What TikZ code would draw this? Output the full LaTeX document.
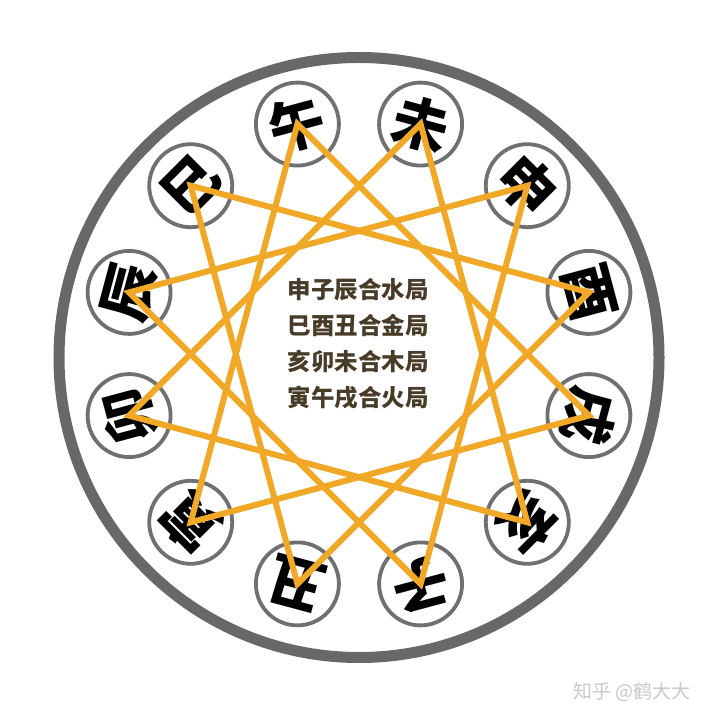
\documentclass[tikz,border=0pt]{standalone}
\usepackage{fontspec}
\newfontfamily\cjk{Noto Sans CJK SC}
\definecolor{ringgray}{RGB}{104,104,104}
\definecolor{smallgray}{RGB}{112,112,112}
\definecolor{star}{RGB}{240,168,38}
\definecolor{txt}{RGB}{72,60,40}
\definecolor{mark}{RGB}{200,200,200}
\begin{document}
\begin{tikzpicture}[x=1pt,y=1pt,
  branch/.style={circle, draw=smallgray, line width=3.8pt, minimum size=83pt, inner sep=0pt, fill=white,
    font=\cjk\bfseries\fontsize{56}{56}\selectfont},
  trine/.style={draw=star, line width=6pt, line join=miter},
  title/.style={font=\cjk\bfseries\fontsize{23.5}{36}\selectfont, text=txt, align=center},
  watermark/.style={font=\cjk\fontsize{19}{19}\selectfont, text=mark}]
\useasboundingbox (0,0) rectangle (720,720);
\fill[white] (0,0) rectangle (720,720);
\coordinate (O) at (359,362.5);
\coordinate (S) at (359,366);
\node[circle, draw=ringgray, line width=11pt, minimum size=600pt, inner sep=0pt] (ring) at (O) {};
\foreach \n/\c/\a in {wu/午/105, wei/未/75, shen/申/45, you/酉/15, xu/戌/-15, hai/亥/-45,
                      zi/子/-75, chou/丑/-105, yin/寅/-135, mao/卯/-165, chen/辰/165, si/巳/135} {
  \node[branch, rotate=\a-90] (\n) at ([shift={(\a:238)}]S) {\c};
}
\draw[trine] (shen.center) -- (zi.center) -- (chen.center) -- cycle;
\draw[trine] (si.center) -- (you.center) -- (chou.center) -- cycle;
\draw[trine] (hai.center) -- (mao.center) -- (wei.center) -- cycle;
\draw[trine] (yin.center) -- (wu.center) -- (xu.center) -- cycle;
\node[title] (legend) at (358,376) {申子辰合水局\\巳酉丑合金局\\亥卯未合木局\\寅午戌合火局};
\node[watermark] (credit) at (632,28) {知乎 @鹤大大};
\end{tikzpicture}
\end{document}
